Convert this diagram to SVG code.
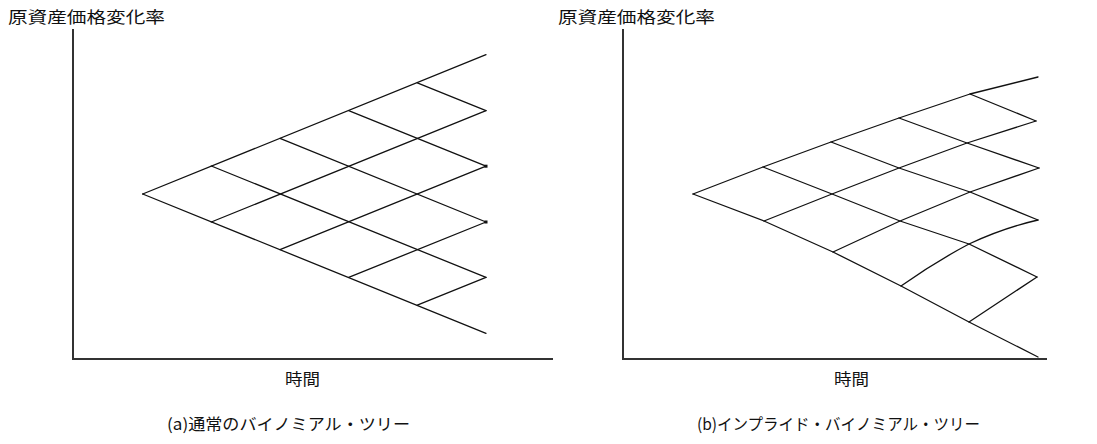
<svg xmlns="http://www.w3.org/2000/svg" width="1097" height="444" viewBox="0 0 1097 444">
<style>
.axis{stroke:#333;stroke-width:2;fill:none}
.edge{stroke:#111;stroke-width:1.3;fill:none;stroke-linecap:round;stroke-linejoin:round}
.lbl{font-family:"Noto Sans CJK JP","Noto Sans",sans-serif;font-size:16px;fill:#111}
</style>
<rect width="1097" height="444" fill="#fff"/>
<g id="panel-a-axes">
<polyline class="axis" points="73,29 73,359 553,359"/>
<text class="lbl" x="8" y="23" textLength="157" lengthAdjust="spacingAndGlyphs">原資産価格変化率</text>
<text class="lbl" x="285" y="385" textLength="35" lengthAdjust="spacingAndGlyphs">時間</text>
<text class="lbl" x="167" y="430" textLength="243" lengthAdjust="spacingAndGlyphs">(a)通常のバイノミアル・ツリー</text>
</g>
<g id="panel-b-axes">
<polyline class="axis" points="623,29 623,359 1047,359"/>
<text class="lbl" x="558" y="23" textLength="157" lengthAdjust="spacingAndGlyphs">原資産価格変化率</text>
<text class="lbl" x="834" y="385" textLength="35" lengthAdjust="spacingAndGlyphs">時間</text>
<text class="lbl" x="697" y="430" textLength="283" lengthAdjust="spacingAndGlyphs">(b)インプライド・バイノミアル・ツリー</text>
</g>
<g id="connectors">
<g id="tree-a">
<line class="edge" x1="142.7" y1="194" x2="486" y2="54.7"/>
<line class="edge" x1="142.7" y1="194" x2="486" y2="333.3"/>
<line class="edge" x1="211.3" y1="222" x2="486" y2="110.6"/>
<line class="edge" x1="280" y1="249.6" x2="486" y2="166.2"/>
<line class="edge" x1="348.7" y1="277.4" x2="486" y2="222"/>
<line class="edge" x1="417.3" y1="305.2" x2="486" y2="277.4"/>
<line class="edge" x1="211.3" y1="166" x2="486" y2="277.4"/>
<line class="edge" x1="280" y1="138.4" x2="486" y2="222"/>
<line class="edge" x1="348.7" y1="110.6" x2="486" y2="166.2"/>
<line class="edge" x1="417.3" y1="82.8" x2="486" y2="110.6"/>
<rect x="484.5" y="164.7" width="3" height="3" fill="#111"/>
<rect x="484.5" y="220.5" width="3" height="3" fill="#111"/>
</g>
<g id="tree-b">
<!-- upper diagonals -->
<polyline class="edge" points="693,194 763,167 831,142 899,118 970,94 1038,77"/>
<polyline class="edge" points="764,221 832,194 899,168 967,143 1036,121"/>
<polyline class="edge" points="833,252 900,221 970,192 1039,168"/>
<path class="edge" d="M901,286 Q935,262 969,244 Q1003,228 1038,220"/>
<polyline class="edge" points="969,322 1037,277"/>
<!-- lower diagonals -->
<polyline class="edge" points="693,194 764,221 833,252 901,286 969,322 1038,357"/>
<polyline class="edge" points="763,167 832,194 900,221 969,244 1037,277"/>
<polyline class="edge" points="831,142 899,168 970,192 1038,220"/>
<polyline class="edge" points="899,118 967,143 1039,168"/>
<polyline class="edge" points="970,94 1036,121"/>
</g>
</g>
</svg>
